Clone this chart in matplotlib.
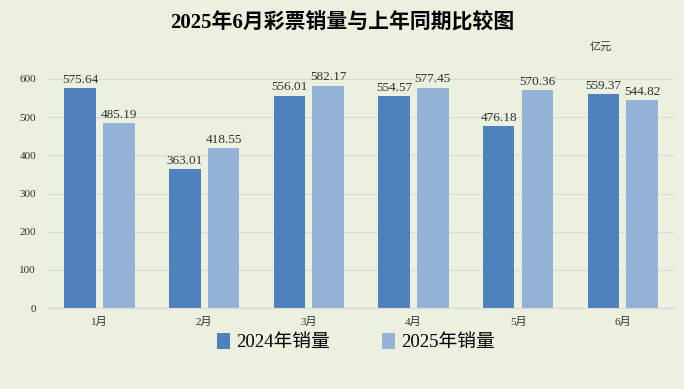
import numpy as np
import matplotlib
matplotlib.use('Agg')
import matplotlib.pyplot as plt

plt.rcParams['font.family'] = ['Liberation Serif', 'Noto Sans CJK SC', 'DejaVu Sans']

months = ['1月', '2月', '3月', '4月', '5月', '6月']
sales_2024 = [575.64, 363.01, 556.01, 554.57, 476.18, 559.37]
sales_2025 = [485.19, 418.55, 582.17, 577.45, 570.36, 544.82]
series_names = ['2024年销量', '2025年销量']

bg = '#EBF0DF'
c1 = '#4F81BD'
c2 = '#95B3D7'

fig = plt.figure(figsize=(6.84, 3.89), dpi=100, facecolor=bg)
ax = fig.add_axes([0.069, 0.208, 0.918, 0.589], facecolor=bg)

x = np.arange(len(months))
w = 0.3
off = 0.185
b1 = ax.bar(x - off, sales_2024, w, color=c1, label=series_names[0], zorder=3)
b2 = ax.bar(x + off, sales_2025, w, color=c2, label=series_names[1], zorder=3)

for bars, vals in ((b1, sales_2024), (b2, sales_2025)):
    for rect, v in zip(bars, vals):
        ax.text(rect.get_x() + rect.get_width() / 2, v + 6, '%.2f' % v,
                ha='center', va='bottom', fontsize=9.5, color='#333333', clip_on=False)

ax.set_xlim(-0.5, len(months) - 0.5)
ax.set_ylim(0, 600)
ax.set_yticks(range(0, 601, 100))
ax.set_xticks(x)
ax.set_xticklabels(months)
ax.tick_params(axis='both', length=0, labelsize=8, colors='#333333')
ax.tick_params(axis='y', pad=8)
ax.tick_params(axis='x', pad=6)
ax.yaxis.grid(True, color='#D9D9D9', linewidth=0.8, zorder=0)
for s in ['top', 'right', 'left']:
    ax.spines[s].set_visible(False)
ax.spines['bottom'].set_color('#D9D9D9')
ax.spines['bottom'].set_zorder(4)

fig.text(0.5, 0.94, '2025年6月彩票销量与上年同期比较图', ha='center', va='center',
         fontsize=15, fontweight='bold', color='black')
fig.text(0.878, 0.88, '亿元', ha='center', va='center', fontsize=8, color='#333333')

fig.legend(handles=[b1, b2], labels=series_names, loc='center', bbox_to_anchor=(0.52, 0.12),
           ncol=2, frameon=False, fontsize=13.5, handlelength=0.7, handleheight=0.9,
           handletextpad=0.3, columnspacing=2.8)

fig.savefig('out.png', dpi=100, facecolor=bg)
